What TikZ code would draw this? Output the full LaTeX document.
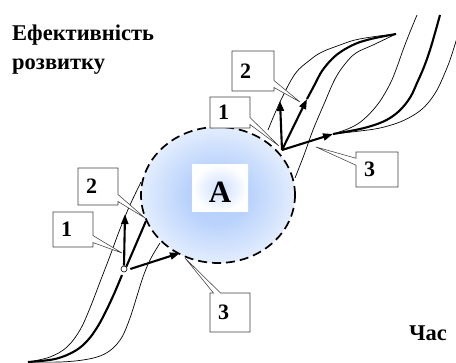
\documentclass[tikz,border=0pt]{standalone}
\usepackage{fontspec}
\setmainfont{Liberation Serif}
\usetikzlibrary{arrows.meta,shapes.callouts,shapes.geometric}
\definecolor{ablueC}{RGB}{185,210,252}
\pgfdeclareradialshading{ablue}{\pgfpoint{0bp}{0bp}}{color(0bp)=(ablueC); color(10bp)=(ablueC); color(35bp)=(white); color(50bp)=(white)}
\begin{document}
\begin{tikzpicture}[x=1pt,y=-1pt,
  thincurve/.style={line width=0.7pt},
  thickcurve/.style={line width=2.1pt},
  vec/.style={line width=2.1pt,-{Triangle[length=10pt,width=7pt]}},
  callbox/.style={rectangle callout, draw=black!75, line width=0.55pt, fill=white,
    font=\bfseries\fontsize{22}{22}\selectfont, callout pointer width=7pt,
    inner ysep=0pt, inner xsep=8pt, text width=24pt, align=left},
  lbl/.style={font=\bfseries\fontsize{22.5}{25}\selectfont, inner sep=0pt, anchor=base west}
]
\useasboundingbox (0,0) rectangle (456,363);

% texts
\node[lbl] (t1) at (12,41) {Ефективність};
\node[lbl] (t2) at (12,70) {розвитку};
\node[lbl] (t3) at (409,341) {Час};

% shaded region A
\node[ellipse, shading=ablue, minimum width=154pt, minimum height=136pt, inner sep=0pt] (ellfill) at (218,195) {};
\node[rectangle, shade, inner color=ablueC!70, outer color=white, minimum width=56pt, minimum height=47pt, inner sep=0pt] (abox) at (220,188.5) {};
\node[font=\bfseries\fontsize{31}{31}\selectfont, inner sep=0pt] (A) at (220,192) {A};

% key points
\coordinate (o1) at (28,362);
\coordinate (j2) at (282,150);
\coordinate (v1u) at (280,101);
\coordinate (v2u) at (307,99);
\coordinate (v3u) at (333,134);
\coordinate (leaf) at (396,34);

% lower-left bundle
\draw[thincurve] plot[smooth, tension=0.6] coordinates {(o1) (50,357) (67,347) (80,330) (90,308) (100,282) (110,256) (120,229) (130,205) (141,182)};
\draw[thickcurve] plot[smooth, tension=0.6] coordinates {(o1) (55,359) (75,351) (88,340) (98,326) (106,311) (114,294) (122,275)};
\draw[thincurve] plot[smooth, tension=0.6] coordinates {(o1) (60,362) (83,360) (100,356) (112,349) (122,337) (130,318) (137,296) (143,277) (150,260) (160,243)};

% lower junction and vectors
\node[circle, draw, fill=white, minimum size=6pt, inner sep=0pt, line width=0.6pt] (j1) at (124,269) {};
\coordinate (v1l) at (125,214);
\coordinate (v2l) at (146,221);
\coordinate (v3l) at (180,253);
\draw[vec] (j1.north) -- (v1l);
\draw[thickcurve] (j1.north east) -- (v2l);
\draw[vec] ([xshift=3pt]j1.east) -- (v3l);

% upper leaf bundle
\draw[thincurve] plot[smooth, tension=0.6] coordinates {(268,130) (280,102) (295,74) (310,60) (322,52) (340,45) (355,40) (375,36.5) (leaf)};
\draw[thickcurve] plot[smooth, tension=0.6] coordinates {(v2u) (315,84) (322,71) (332,59) (342,51) (355,44) (367,40) (380,37) (leaf)};
\draw[thincurve] plot[smooth, tension=0.6] coordinates {(295,178) (304,155) (313,130) (324,104) (335,79) (345,64) (356,53) (373,45) (leaf)};

% upper-right bundle
\draw[thincurve] plot[smooth, tension=0.6] coordinates {(v3u) (350,128) (363,120) (378,104) (390,84) (397,67) (403,50) (410,32) (417,15)};
\draw[thickcurve] plot[smooth, tension=0.6] coordinates {(v3u) (360,129) (380,123) (393,116) (403,107) (411,96) (417,83) (424,67) (430,50) (435,33) (440,15)};
\draw[thincurve] plot[smooth, tension=0.6] coordinates {(v3u) (360,131) (380,128) (400,122) (417,113) (428,103) (437,90) (444,75) (450,60) (457,38)};

% upper vectors
\draw[vec] (j2) -- (v1u);
\draw[vec] (j2) -- (v2u);
\draw[vec] (j2) -- (v3u);

% dashed boundary of A
\node[ellipse, draw, line width=1.7pt, dash pattern=on 9pt off 5pt, minimum width=154pt, minimum height=136pt, inner sep=0pt] (ell) at (218,195) {};

% callout targets
\coordinate (pu1) at (279,146);
\coordinate (pu2) at (300,102);
\coordinate (pu3) at (316,147);
\coordinate (pl1) at (122,253);
\coordinate (pl2) at (145,218);
\coordinate (pl3) at (185,258);

% callouts
\node[callbox, minimum height=31pt, callout absolute pointer={(pu1)}] (cu1) at (230,112.5) {1};
\node[callbox, minimum height=40pt, text width=26pt, callout absolute pointer={(pu2)}] (cu2) at (253,71) {2};
\node[callbox, minimum height=35pt, text width=26pt, callout absolute pointer={(pu3)}] (cu3) at (377,169.5) {3};
\node[callbox, minimum height=37pt, callout absolute pointer={(pl2)}] (cl2) at (98,186.5) {2};
\node[callbox, minimum height=35pt, callout absolute pointer={(pl1)}] (cl1) at (73,229.5) {1};
\node[callbox, minimum height=39pt, callout absolute pointer={(pl3)}] (cl3) at (230,312.5) {3};
\end{tikzpicture}
\end{document}
